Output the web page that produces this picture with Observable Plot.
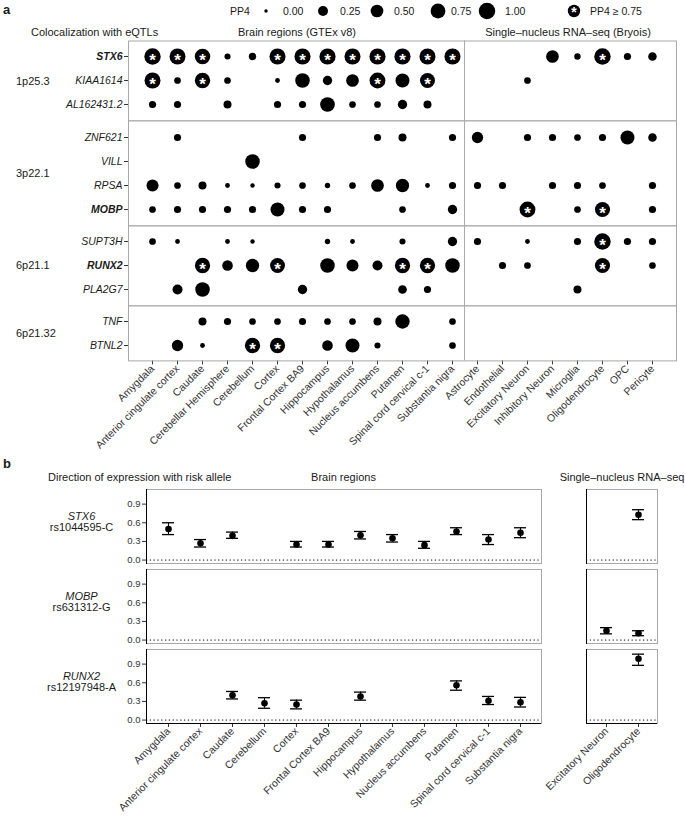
<!DOCTYPE html>
<html><head><meta charset="utf-8">
<script src="https://cdn.jsdelivr.net/npm/d3@7"></script>
<script src="https://cdn.jsdelivr.net/npm/@observablehq/plot@0.6"></script>
<style>
body{margin:0;background:#fff;font-family:"Liberation Sans",Arial,sans-serif;}
#root{position:relative;width:685px;height:826px;overflow:hidden;background:#fff;}
.abs{position:absolute;white-space:nowrap;line-height:1;color:#1a1a1a;}
svg{display:block;}
</style></head><body><div id="root"></div>
<script>
// ---------- DATA: panel a ----------
const brainRegions = ["Amygdala","Anterior cingulate cortex","Caudate","Cerebellar Hemisphere","Cerebellum","Cortex","Frontal Cortex BA9","Hippocampus","Hypothalamus","Nucleus accumbens","Putamen","Spinal cord cervical c-1","Substantia nigra"];
const cellTypes = ["Astrocyte","Endothelial","Excitatory Neuron","Inhibitory Neuron","Microglia","Oligodendrocyte","OPC","Pericyte"];
const loci = ["1p25.3","3p22.1","6p21.1","6p21.32"];
const lociGenes = [["STX6","KIAA1614","AL162431.2"],["ZNF621","VILL","RPSA","MOBP"],["SUPT3H","RUNX2","PLA2G7"],["TNF","BTNL2"]];
const boldGenes = ["STX6","MOBP","RUNX2"];
const legendValues = [0, 0.25, 0.5, 0.75, 1];
const starThreshold = 0.75;
// PP4 per gene: 13 brain regions then 8 cell types (null = not tested)
const pp4STX6     = [0.98,0.92,0.85,0.04,0.09,0.93,0.94,0.95,0.93,0.95,0.95,0.93,0.94, null,null,null,0.50,0.05,0.99,0.08,0.15];
const pp4KIAA1614 = [0.92,0.06,0.84,0.06,null,0.01,0.72,0.20,0.50,0.90,0.65,0.78,null, null,null,0.06,null,null,null,null,null];
const pp4AL162431 = [0.08,0.08,null,0.12,null,0.08,0.08,0.74,0.06,0.06,0.20,0.12,null, null,null,null,null,null,null,null,null];
const pp4ZNF621   = [null,0.08,null,null,null,null,0.08,null,null,0.08,0.12,null,0.08, 0.36,null,0.08,0.08,0.06,0.08,0.65,0.15];
const pp4VILL     = [null,null,null,null,0.72,null,null,null,null,null,null,null,null, null,null,null,null,null,null,null,null];
const pp4RPSA     = [0.43,0.06,0.12,0.01,0.005,0.04,0.06,0.02,0.06,0.50,0.57,0.01,0.08, 0.08,0.08,null,0.08,0.08,0.06,null,0.08];
const pp4MOBP     = [0.06,0.08,0.08,0.08,0.08,0.65,0.08,0.08,null,null,0.06,null,0.20, null,null,0.90,null,0.06,0.80,null,0.08];
const pp4SUPT3H   = [0.06,0.01,null,0.01,0.005,null,null,0.02,0.01,null,0.04,null,0.20, 0.08,null,0.01,null,0.08,0.99,0.08,0.08];
const pp4RUNX2    = [null,null,0.82,0.30,0.57,0.76,null,0.72,0.43,0.25,0.82,0.82,0.72, null,0.08,0.06,null,null,0.80,null,0.06];
const pp4PLA2G7   = [null,0.25,0.72,null,null,null,0.20,null,null,null,0.16,0.08,null, null,null,null,null,0.12,null,null,null];
const pp4TNF      = [null,null,0.12,0.08,0.06,0.06,0.08,0.06,0.06,0.12,0.70,null,0.06, null,null,null,null,null,null,null,null];
const pp4BTNL2    = [null,0.36,0.01,null,0.82,0.82,null,0.30,0.65,0.04,null,null,0.06, null,null,null,null,null,null,null,null];

// ---------- DATA: panel b ----------
const dirRegions = ["Amygdala","Anterior cingulate cortex","Caudate","Cerebellum","Cortex","Frontal Cortex BA9","Hippocampus","Hypothalamus","Nucleus accumbens","Putamen","Spinal cord cervical c-1","Substantia nigra"];
const dirCells = ["Excitatory Neuron","Oligodendrocyte"];
const dirGenes = ["STX6","MOBP","RUNX2"];
const dirSnps = ["rs1044595-C","rs631312-G","rs12197948-A"];
const yTicksB = [0, 0.3, 0.6, 0.9];
const estSTX6 = [0.50,0.27,0.39,null,0.25,0.25,0.40,0.35,0.24,0.46,0.33,0.44];
const loSTX6  = [0.41,0.21,0.35,null,0.21,0.21,0.34,0.29,0.19,0.41,0.25,0.36];
const hiSTX6  = [0.60,0.33,0.45,null,0.30,0.30,0.46,0.41,0.30,0.52,0.41,0.52];
const estMOBP = [null,null,null,null,null,null,null,null,null,null,null,null];
const loMOBP  = [null,null,null,null,null,null,null,null,null,null,null,null];
const hiMOBP  = [null,null,null,null,null,null,null,null,null,null,null,null];
const estRUNX2 = [null,null,0.40,0.27,0.25,null,0.38,null,null,0.56,0.31,0.285];
const loRUNX2  = [null,null,0.34,0.19,0.18,null,0.32,null,null,0.48,0.25,0.21];
const hiRUNX2  = [null,null,0.46,0.36,0.32,null,0.45,null,null,0.63,0.38,0.365];
const cellEstSTX6 = [null,0.73], cellLoSTX6 = [null,0.65], cellHiSTX6 = [null,0.81];
const cellEstMOBP = [0.15,0.11], cellLoMOBP = [0.10,0.07], cellHiMOBP = [0.20,0.15];
const cellEstRUNX2 = [null,0.985], cellLoRUNX2 = [null,0.88], cellHiRUNX2 = [null,1.06];

// ---------- LAYOUT ----------
const FONT = '"Liberation Sans", Arial, Helvetica, sans-serif';
const GRID = "#a8a8a8";
const root = document.getElementById("root");
function label(text, left, cy, opts = {}) {
  const d = document.createElement("div");
  d.className = "abs";
  d.textContent = text;
  d.style.left = left + "px";
  d.style.top = cy + "px";
  d.style.fontSize = (opts.size || 11) + "px";
  if (opts.bold) d.style.fontWeight = "bold";
  d.style.transform = opts.center ? "translate(-50%,-50%)" : "translateY(-50%)";
  root.appendChild(d);
  return d;
}
function place(el, left, top) {
  el.style.position = "absolute";
  el.style.left = left + "px";
  el.style.top = top + "px";
  root.appendChild(el);
}

const pp4ByGene = {STX6:pp4STX6, KIAA1614:pp4KIAA1614, "AL162431.2":pp4AL162431, ZNF621:pp4ZNF621, VILL:pp4VILL, RPSA:pp4RPSA, MOBP:pp4MOBP, SUPT3H:pp4SUPT3H, RUNX2:pp4RUNX2, PLA2G7:pp4PLA2G7, TNF:pp4TNF, BTNL2:pp4BTNL2};
const allCols = brainRegions.concat(cellTypes);
const rRange = [1.75, 8.25];
const rFun = d3.scaleSqrt().domain([0,1]).range(rRange);

// headers panel a
label("a", 3, 9, {size: 13, bold: true});
label("Colocalization with eQTLs", 31, 32);
label("Brain regions (GTEx v8)", 297, 32, {center: true});
label("Single\u2013nucleus RNA\u2013seq (Bryois)", 568, 32, {center: true});

// legend (svg)
{
  const lg = d3.create("svg").attr("width", 685).attr("height", 24)
    .style("font-family", FONT).style("font-size", "10.5px");
  lg.append("text").attr("x", 230).attr("y", 11).attr("dy", "0.35em").attr("fill", "#1a1a1a").text("PP4");
  const dotX = [266, 323, 377, 438, 487];
  const labX = [283, 340, 394, 451, 505];
  legendValues.forEach((v, i) => {
    lg.append("circle").attr("cx", dotX[i]).attr("cy", 11).attr("r", rFun(v)).attr("fill", "black");
    lg.append("text").attr("x", labX[i]).attr("y", 11).attr("dy", "0.35em").attr("fill", "#1a1a1a").text(d3.format(".2f")(v));
  });
  lg.append("circle").attr("cx", 574).attr("cy", 11).attr("r", 6.2).attr("fill", "black");
  lg.append("text").attr("x", 574).attr("y", 11).attr("dy", 5.6).attr("text-anchor", "middle")
    .attr("fill", "white").style("font-size", "14px").style("font-weight", "bold").text("*");
  lg.append("text").attr("x", 590).attr("y", 11).attr("dy", "0.35em").attr("fill", "#1a1a1a").text("PP4 \u2265 " + starThreshold.toFixed(2));
  place(lg.node(), 0, 0);
}

// panel a: one plot per locus, stacked
const aLeft = 128, aRight = 676, aPad = 0.6;
const aStep = (aRight - aLeft) / (allCols.length - 1 + 2 * aPad);
const rowStep = 24.95;
let frameTop = 40.7;
lociGenes.forEach((genes, gi) => {
  const last = gi === lociGenes.length - 1;
  const inner = rowStep * (genes.length - 1 + 2 * aPad);
  const mb = last ? 112 : 0.5;
  const cells = genes.flatMap(g => pp4ByGene[g].map((v, i) => ({gene: g, col: allCols[i], pp4: v}))).filter(d => d.pp4 != null);
  const plot = Plot.plot({
    width: 685, height: inner + 0.5 + mb,
    marginLeft: aLeft, marginRight: 685 - aRight, marginTop: 0.5, marginBottom: mb,
    style: {fontFamily: FONT, fontSize: "10.5px", color: "#333", background: "transparent"},
    x: {type: "point", domain: allCols, padding: aPad, axis: last ? "bottom" : null, tickRotate: -45, tickSize: 4, tickPadding: 2, label: null},
    y: {type: "point", domain: genes, padding: aPad, tickSize: 4, tickPadding: 2, label: null},
    r: {type: "sqrt", domain: [0, 1], range: rRange},
    marks: [
      Plot.frame({stroke: GRID}),
      Plot.ruleX([cellTypes[0]], {dx: -aStep / 2, stroke: GRID}),
      Plot.dot(cells, {x: "col", y: "gene", r: "pp4", fill: "black"}),
      Plot.text(cells.filter(d => d.pp4 >= starThreshold), {x: "col", y: "gene", text: d => "*", fill: "white", fontSize: 17, fontWeight: "bold", dy: 4.5})
    ]
  });
  d3.select(plot).selectAll('[aria-label="y-axis tick label"] text').each(function() {
    const t = this.textContent;
    d3.select(this).attr("font-style", "italic").attr("fill", "#1a1a1a");
    if (boldGenes.includes(t)) d3.select(this).attr("font-weight", "bold");
  });
  place(plot, 0, frameTop - 0.5);
  label(loci[gi], 16, frameTop + inner / 2);
  frameTop += inner;
});

// panel b headers
label("b", 3, 463, {size: 13, bold: true});
label("Direction of expression with risk allele", 48, 477);
label("Brain regions", 343.5, 477, {center: true});
label("Single\u2013nucleus RNA\u2013seq", 622, 477, {center: true});

// panel b data rows
const dirEst = {STX6: estSTX6, MOBP: estMOBP, RUNX2: estRUNX2};
const dirLo = {STX6: loSTX6, MOBP: loMOBP, RUNX2: loRUNX2};
const dirHi = {STX6: hiSTX6, MOBP: hiMOBP, RUNX2: hiRUNX2};
const cEst = {STX6: cellEstSTX6, MOBP: cellEstMOBP, RUNX2: cellEstRUNX2};
const cLo = {STX6: cellLoSTX6, MOBP: cellLoMOBP, RUNX2: cellLoRUNX2};
const cHi = {STX6: cellHiSTX6, MOBP: cellHiMOBP, RUNX2: cellHiRUNX2};
const brainRows = dirGenes.flatMap(g => dirRegions.map((c, i) => ({gene: g, col: c, est: dirEst[g][i], lo: dirLo[g][i], hi: dirHi[g][i]}))).filter(d => d.est != null);
const cellRows = dirGenes.flatMap(g => dirCells.map((c, i) => ({gene: g, col: c, est: cEst[g][i], lo: cLo[g][i], hi: cHi[g][i]}))).filter(d => d.est != null);

const yDomB = [-0.055, 1.135];
const bTop = 8.3, bInner = 234.4, bBottom = 101;
function dirMarks(rows) {
  return [
    Plot.frame({stroke: GRID}),
    Plot.frame({anchor: "left", stroke: "black"}),
    Plot.ruleY([dirGenes[dirGenes.length - 1]], {fy: d => d, y: () => yDomB[0], stroke: "black"}),
    Plot.ruleY([0], {stroke: "black", strokeDasharray: "1.2,2.6"}),
    Plot.ruleX(rows, {x: "col", y1: "lo", y2: "hi", fy: "gene", stroke: "black", strokeWidth: 1.1}),
    Plot.tickY(rows, {x: "col", y: "lo", fy: "gene", stroke: "black", strokeWidth: 1.3}),
    Plot.tickY(rows, {x: "col", y: "hi", fy: "gene", stroke: "black", strokeWidth: 1.3}),
    Plot.dot(rows, {x: "col", y: "est", fy: "gene", r: 3.3, fill: "black"})
  ];
}
const common = {
  height: bTop + bInner + bBottom, marginTop: bTop, marginBottom: bBottom,
  style: {fontFamily: FONT, fontSize: "10.5px", color: "#333", background: "transparent"},
  fy: {domain: dirGenes, paddingInner: 0.077, paddingOuter: 0, axis: null, label: null}
};
const leftB = Plot.plot({
  ...common, width: 560, marginLeft: 146, marginRight: 19,
  x: {type: "band", domain: dirRegions, paddingInner: 0.63, paddingOuter: 0.415, tickRotate: -45, tickSize: 4, tickPadding: 2, label: null},
  y: {domain: yDomB, ticks: yTicksB, tickFormat: ".1f", tickSize: 4, tickPadding: 2, label: null},
  marks: [
    ...dirMarks(brainRows),
    Plot.text(dirGenes, {fy: d => d, text: d => d, frameAnchor: "left", dx: -65, dy: -10, textAnchor: "middle", fontStyle: "italic", fontSize: 11, fill: "#1a1a1a"}),
    Plot.text(dirGenes, {fy: d => d, text: (d, i) => dirSnps[i], frameAnchor: "left", dx: -65, dy: 1, textAnchor: "middle", fontSize: 11, fill: "#1a1a1a"})
  ]
});
d3.select(leftB).selectAll('[aria-label="y-axis tick label"]').attr("font-size", 9.5);
place(leftB, 0, 480);

const rightB = Plot.plot({
  ...common, width: 225, marginLeft: 126, marginRight: 28,
  x: {type: "band", domain: dirCells, paddingInner: 0.63, paddingOuter: 0.415, tickRotate: -45, tickSize: 4, tickPadding: 2, label: null},
  y: {domain: yDomB, axis: null},
  marks: dirMarks(cellRows)
});
place(rightB, 460, 480);
</script></body></html>
